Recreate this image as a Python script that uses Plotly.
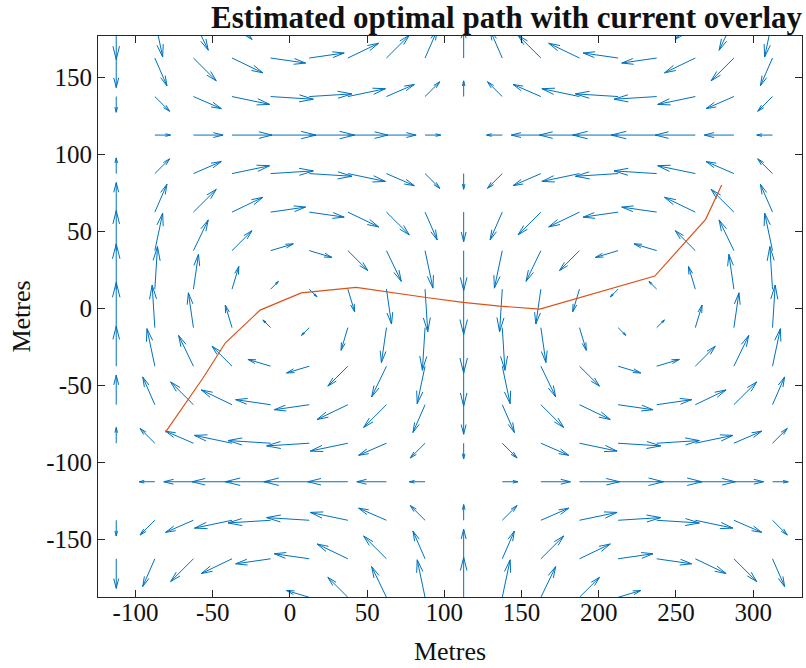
import plotly.graph_objects as go

# Quiver grid (metres)
x_grid = [-112.5, -87.5, -62.5, -37.5, -12.5, 12.5, 37.5, 62.5, 87.5, 112.5,
          137.5, 162.5, 187.5, 212.5, 237.5, 262.5, 287.5, 312.5]
y_grid = [-187.5, -162.5, -137.5, -112.5, -87.5, -62.5, -37.5, -12.5,
          12.5, 37.5, 62.5, 87.5, 112.5, 137.5, 162.5, 187.5]

# Eastward current along the y = 112.5 line, and its relative strength per row
u_row = [0.0, 10.2, 19.2, 25.9, 29.4, 29.4, 25.9, 19.2, 10.2, 0.0,
         -10.2, -19.2, -25.9, -29.4, -29.4, -25.9, -19.2, -10.2]
u_row_weight = [-0.5, -0.77, -0.94, -1.0, -0.94, -0.77, -0.5, -0.17,
                0.17, 0.5, 0.77, 0.94, 1.0, 0.94, 0.77, 0.5]

# Northward current along the x = -112.5 line, and its relative strength per column
v_col = [-25.9, -19.2, -10.2, 0.0, 10.2, 19.2, 25.9, 29.4,
         29.4, 25.9, 19.2, 10.2, 0.0, -10.2, -19.2, -25.9]
v_col_weight = [1.0, 0.94, 0.77, 0.5, 0.17, -0.17, -0.5, -0.77, -0.94, -1.0,
                -0.94, -0.77, -0.5, -0.17, 0.17, 0.5, 0.77, 0.94]

# Estimated optimal path waypoints
path_x = [-80.7, -56.5, -41.8, -19.3, 7.3, 42.9, 88.3, 112.1, 135.8, 161.8, 236.3, 269.2, 279.6]
path_y = [-80.5, -45.5, -22.3, -1.1, 10.1, 13.6, 7.1, 3.9, 1.5, -0.5, 21.0, 57.8, 80.1]

x_ticks = [-100, -50, 0, 50, 100, 150, 200, 250, 300]
x_tick_labels = ["-100", "-50", "0", "50", "100", "150", "200", "250", "300"]
y_ticks = [-150, -100, -50, 0, 50, 100, 150]
y_tick_labels = ["-150", "-100", "-50", "0", "50", "100", "150"]

HEAD = 0.33    # arrow head length relative to arrow length
SPREAD = 0.25  # head half-width relative to head length

qx, qy = [], []
for i, y0 in enumerate(y_grid):
    for j, x0 in enumerate(x_grid):
        u = u_row[j] * u_row_weight[i]
        v = v_col[i] * v_col_weight[j]
        tx, ty = x0 + u, y0 + v
        qx += [x0, tx, None]
        qy += [y0, ty, None]
        if u == 0 and v == 0:
            continue
        qx += [tx - HEAD * (u + SPREAD * v), tx, tx - HEAD * (u - SPREAD * v), None]
        qy += [ty - HEAD * (v - SPREAD * u), ty, ty - HEAD * (v + SPREAD * u), None]

fig = go.Figure()
fig.add_trace(go.Scatter(x=qx, y=qy, mode="lines",
                         line=dict(color="#0072BD", width=1),
                         hoverinfo="skip", showlegend=False))
fig.add_trace(go.Scatter(x=path_x, y=path_y, mode="lines",
                         line=dict(color="#D95319", width=1.2),
                         showlegend=False))

FONT = "Liberation Serif"
axis_common = dict(showline=True, linecolor="#262626", linewidth=1,
                   mirror="ticks", ticks="inside", ticklen=7,
                   tickcolor="#262626", tickwidth=1,
                   showgrid=False, zeroline=False,
                   tickfont=dict(family=FONT, size=25, color="#111111"))

fig.update_layout(
    width=806, height=668,
    margin=dict(l=98, r=4, t=36, b=71),
    paper_bgcolor="white", plot_bgcolor="white",
    title=dict(text="Estimated optimal path with current overlay",
               font=dict(family=FONT, size=31, weight="bold", color="#111111"),
               x=1, xref="paper", xanchor="right",
               y=1 - 17 / 668, yref="container", yanchor="middle"),
    xaxis=dict(range=[-124.3, 331.6], tickvals=x_ticks, ticktext=x_tick_labels,
               ticklabelstandoff=-7,
               title=dict(text="Metres", font=dict(family=FONT, size=26, color="#111111"),
                          standoff=16),
               **axis_common),
    yaxis=dict(range=[-187.3, 176.8], tickvals=y_ticks, ticktext=y_tick_labels,
               title=dict(text="Metres", font=dict(family=FONT, size=26, color="#111111"),
                          standoff=8),
               **axis_common),
)

fig.write_html("out.html")
